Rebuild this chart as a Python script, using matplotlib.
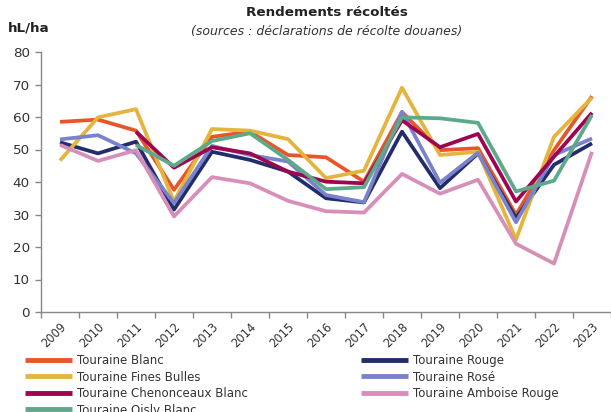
import numpy as np
import matplotlib
matplotlib.use("Agg")
import matplotlib.pyplot as plt

plt.rcParams['font.family'] = ['DejaVu Sans']

years = [str(y) for y in range(2009, 2024)]

# rendements (hL/ha)
blanc = [58.5, 59.2, 55.8, 37.6, 53.9, 55.5, 48.3, 47.6, 40.1, 61.5, 49.8, 50.4, 29.9, 49.8, 66.4]
rouge = [52.2, 48.8, 52.4, 31.5, 49.3, 46.8, 43.2, 35.0, 33.7, 55.5, 38.1, 48.8, 28.9, 45.3, 51.9]
fines_bulles = [46.6, 59.9, 62.4, 34.0, 56.3, 55.8, 53.2, 41.2, 43.5, 69.0, 48.3, 49.3, 22.3, 53.9, 66.0]
rose = [53.1, 54.4, 48.8, 33.5, 51.1, 48.3, 46.3, 36.0, 33.8, 61.6, 39.8, 49.0, 27.6, 48.3, 53.4]
chenonceaux = [np.nan, np.nan, 55.5, 44.4, 50.7, 48.8, 43.2, 40.1, 39.6, 59.0, 50.7, 54.8, 34.0, 47.8, 61.3]
amboise = [51.4, 46.5, 49.8, 29.4, 41.5, 39.6, 34.2, 31.0, 30.6, 42.5, 36.4, 40.7, 21.0, 14.9, 49.3]
oisly = [np.nan, np.nan, 51.4, 45.0, 52.6, 55.0, 46.8, 37.8, 38.4, 59.9, 59.6, 58.2, 37.1, 40.4, 60.6]

series = [
    ("Touraine Blanc", blanc, "#E9552B"),
    ("Touraine Rouge", rouge, "#232D6B"),
    ("Touraine Fines Bulles", fines_bulles, "#E4B43C"),
    ("Touraine Rosé", rose, "#7A82CC"),
    ("Touraine Chenonceaux Blanc", chenonceaux, "#9E0550"),
    ("Touraine Amboise Rouge", amboise, "#D78FB9"),
    ("Touraine Oisly Blanc", oisly, "#5DAA8A"),
]

fig = plt.figure(figsize=(6.11, 4.12), dpi=100)
ax = fig.add_axes([41/611, 100/412, 1 - 41/611, 260/412])

x = np.arange(len(years))
lines = {}
for name, vals, col in series:
    lines[name], = ax.plot(x, vals, color=col, lw=2.7, label=name, solid_capstyle='butt')

ax.set_xlim(-0.5, len(years) - 0.5)
ax.set_ylim(0, 80)
ax.set_yticks(range(0, 81, 10))
ax.set_xticks(x)
ax.set_xticklabels(years, rotation=45, ha='right', va='top', rotation_mode='anchor')
ax.set_xticks(np.arange(-0.5, len(years)), minor=True)
ax.tick_params(axis='x', which='major', length=0, pad=6, labelsize=8.3, colors='#333333')
ax.tick_params(axis='x', which='minor', length=4, color='#888888', width=1)
ax.tick_params(axis='y', length=4, color='#888888', width=1, labelsize=9.7, labelcolor='#333333', pad=4)

for s in ['top', 'right']:
    ax.spines[s].set_visible(False)
for s in ['left', 'bottom']:
    ax.spines[s].set_color('#888888')
    ax.spines[s].set_linewidth(1)

fig.text(0.535, 1 - 13/412, "Rendements récoltés", ha='center', va='center',
         fontsize=9.7, fontweight='bold', color='#222222')
fig.text(0.535, 1 - 31/412, "(sources : déclarations de récolte douanes)", ha='center',
         va='center', fontsize=9, style='italic', color='#333333')
fig.text(8/611, 1 - 28/412, "hL/ha", ha='left', va='center', fontsize=9.7,
         fontweight='bold', color='#222222')

order = ["Touraine Blanc", "Touraine Fines Bulles", "Touraine Chenonceaux Blanc",
         "Touraine Oisly Blanc", "Touraine Rouge", "Touraine Rosé", "Touraine Amboise Rouge"]
leg = fig.legend([lines[n] for n in order], order, ncol=2, loc='upper left',
                 bbox_to_anchor=(25/611, 1 - 354/412), frameon=False, fontsize=8.5,
                 handlelength=4, handletextpad=0.4, columnspacing=9.6,
                 labelspacing=0.3, borderpad=0, borderaxespad=0)
for t in leg.get_texts():
    t.set_color('#333333')
for h in leg.get_lines():
    h.set_linewidth(3.5)

fig.savefig("out.png", dpi=100)
